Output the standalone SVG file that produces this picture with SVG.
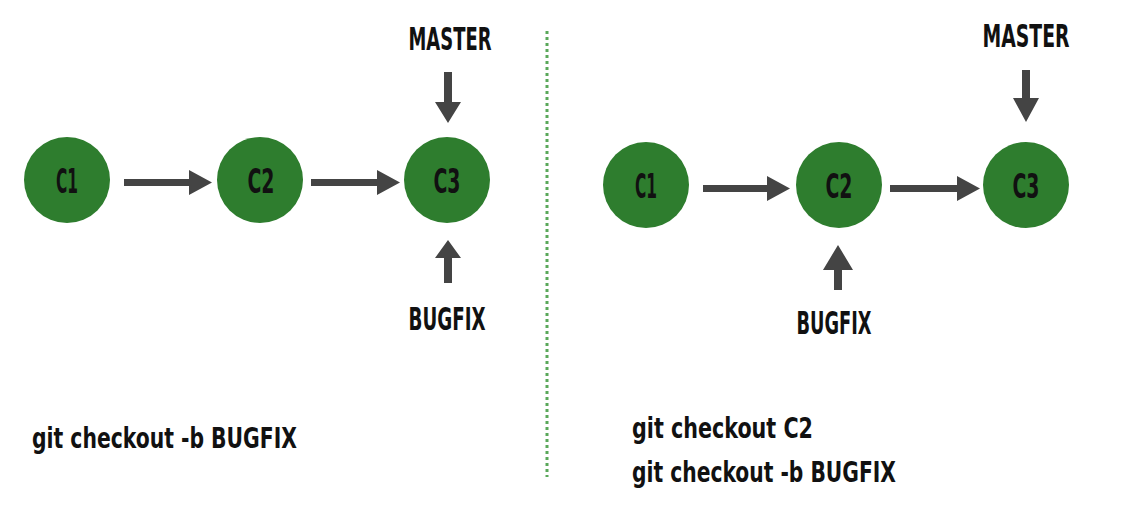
<svg xmlns="http://www.w3.org/2000/svg" width="1141" height="509" viewBox="0 0 1141 509">
<style>
.commit{fill:#2e7d2e}
.ct{font-family:"DejaVu Sans Condensed","Liberation Sans",sans-serif;font-weight:bold;font-size:33px;fill:#111;text-anchor:middle}
.lbl{font-family:"DejaVu Sans Condensed","Liberation Sans",sans-serif;font-weight:bold;font-size:32px;fill:#111;text-anchor:middle}
.cmd{font-family:"DejaVu Sans Condensed","Liberation Sans",sans-serif;font-weight:bold;font-size:28px;fill:#111}
.arr{fill:#444}
</style>
<rect width="1141" height="509" fill="#fff"/>
<line x1="547" y1="31" x2="547" y2="477" stroke="#5aa85a" stroke-width="3" stroke-dasharray="3 3"/>
<g id="connectors">
<polygon class="arr" points="124,179 189,179 189,170 212,182.5 189,195 189,186 124,186"/>
<polygon class="arr" points="311,179 377,179 377,170 400,182.5 377,195 377,186 311,186"/>
<polygon class="arr" points="703,185 767,185 767,176 790,188.5 767,201 767,192 703,192"/>
<polygon class="arr" points="890,185 957,185 957,176 980,188.5 957,201 957,192 890,192"/>
<polygon class="arr" points="444,72 452,72 452,102 461,102 448,123 435,102 444,102"/>
<polygon class="arr" points="444,283 452,283 452,258 461,258 448,240 435,258 444,258"/>
<polygon class="arr" points="1022,70 1030,70 1030,98 1039,98 1026,122 1013,98 1022,98"/>
<polygon class="arr" points="834,290 842,290 842,270 853,270 838,245 823,270 834,270"/>
</g>
<g id="left-c1"><circle class="commit" cx="67" cy="180" r="43"/><text class="ct" x="67" y="193" textLength="22" lengthAdjust="spacingAndGlyphs">C1</text></g>
<g id="left-c2"><circle class="commit" cx="260" cy="180" r="43"/><text class="ct" x="261" y="193" textLength="27" lengthAdjust="spacingAndGlyphs">C2</text></g>
<g id="left-c3"><circle class="commit" cx="447" cy="180" r="43"/><text class="ct" x="447" y="193" textLength="27" lengthAdjust="spacingAndGlyphs">C3</text></g>
<g id="left-master"><text class="lbl" x="450" y="50" textLength="83" lengthAdjust="spacingAndGlyphs">MASTER</text></g>
<g id="left-bugfix"><text class="lbl" x="447" y="330" textLength="77" lengthAdjust="spacingAndGlyphs">BUGFIX</text></g>
<g id="left-cmd"><text class="cmd" x="32" y="448" textLength="265" lengthAdjust="spacingAndGlyphs">git checkout -b BUGFIX</text></g>
<g id="right-c1"><circle class="commit" cx="646" cy="185" r="43"/><text class="ct" x="646" y="198" textLength="22" lengthAdjust="spacingAndGlyphs">C1</text></g>
<g id="right-c2"><circle class="commit" cx="839" cy="185" r="43"/><text class="ct" x="839" y="198" textLength="27" lengthAdjust="spacingAndGlyphs">C2</text></g>
<g id="right-c3"><circle class="commit" cx="1026" cy="185" r="43"/><text class="ct" x="1026" y="198" textLength="27" lengthAdjust="spacingAndGlyphs">C3</text></g>
<g id="right-master"><text class="lbl" x="1026" y="47" textLength="87" lengthAdjust="spacingAndGlyphs">MASTER</text></g>
<g id="right-bugfix"><text class="lbl" x="834" y="334" textLength="75" lengthAdjust="spacingAndGlyphs">BUGFIX</text></g>
<g id="right-cmd">
<text class="cmd" x="632" y="438" textLength="181" lengthAdjust="spacingAndGlyphs">git checkout C2</text>
<text class="cmd" x="632" y="482" textLength="264" lengthAdjust="spacingAndGlyphs">git checkout -b BUGFIX</text>
</g>
</svg>
